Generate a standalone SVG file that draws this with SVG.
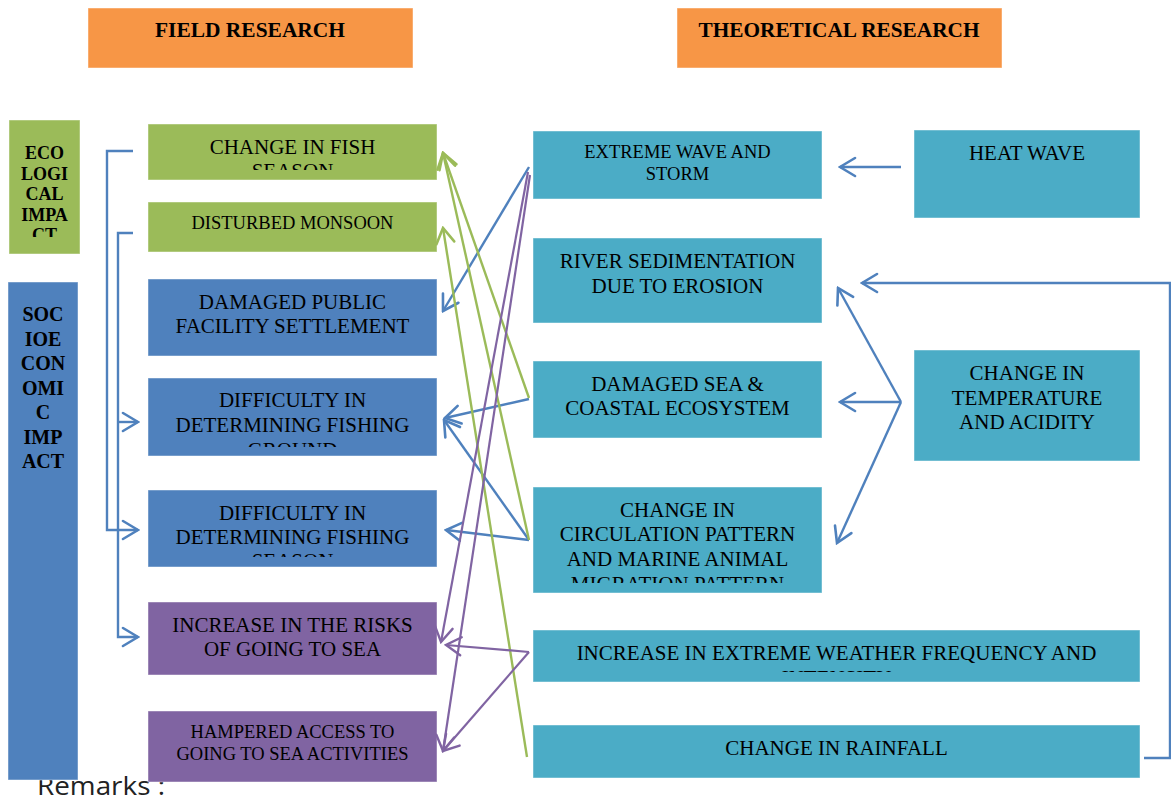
<svg xmlns="http://www.w3.org/2000/svg" width="1171" height="802" viewBox="0 0 1171 802">
  <style>
    .t { font-family: "Liberation Serif", "Times New Roman", serif; fill: #000; text-anchor: middle; }
    .b { font-weight: bold; }
    .orange { fill: #F79646; }
    .green { fill: #9BBB59; }
    .blue { fill: #4F81BD; }
    .purple { fill: #8064A2; }
    .teal { fill: #4BACC6; }
    .box { stroke: #ffffff; stroke-opacity: 0.45; stroke-width: 1; }
    .cb { fill: none; stroke: #4F81BD; stroke-width: 2.4; marker-end: url(#ab); }
    .cg { fill: none; stroke: #9BBB59; stroke-width: 2.4; marker-end: url(#ag); }
    .cp { fill: none; stroke: #8064A2; stroke-width: 2.2; marker-end: url(#ap); }
  </style>
  <defs>
    <marker id="ab" markerUnits="userSpaceOnUse" viewBox="-18 -12 20 24" markerWidth="20" markerHeight="24" refX="0" refY="0" orient="auto">
      <path d="M-15,-9 L0,0 L-15,9" fill="none" stroke="#4F81BD" stroke-width="2.6" stroke-linecap="round"/>
    </marker>
    <marker id="ag" markerUnits="userSpaceOnUse" viewBox="-18 -12 20 24" markerWidth="20" markerHeight="24" refX="0" refY="0" orient="auto">
      <path d="M-15,-9 L0,0 L-15,9" fill="none" stroke="#9BBB59" stroke-width="2.6" stroke-linecap="round"/>
    </marker>
    <marker id="ap" markerUnits="userSpaceOnUse" viewBox="-18 -12 20 24" markerWidth="20" markerHeight="24" refX="0" refY="0" orient="auto">
      <path d="M-15,-9 L0,0 L-15,9" fill="none" stroke="#8064A2" stroke-width="2.4" stroke-linecap="round"/>
    </marker>
    <clipPath id="clipEco"><rect x="9" y="120" width="71" height="117"/></clipPath>
    <clipPath id="clipFish"><rect x="148" y="124" width="289" height="46"/></clipPath>
    <clipPath id="clipGround"><rect x="148" y="378" width="289" height="69"/></clipPath>
    <clipPath id="clipSeason"><rect x="148" y="490" width="289" height="67"/></clipPath>
    <clipPath id="clipCirc"><rect x="533" y="487" width="289" height="96"/></clipPath>
    <clipPath id="clipWeather"><rect x="533" y="630" width="607" height="42"/></clipPath>
  </defs>

  <rect width="1171" height="802" fill="#ffffff"/>

  <!-- footnote sits beneath the left column bar -->
  <text x="37" y="795" font-family="Open Sans, Liberation Sans, sans-serif" font-size="25" fill="#222" textLength="128" lengthAdjust="spacingAndGlyphs">Remarks :</text>

  <!-- column headers -->
  <g id="field-research">
    <rect class="orange box" x="88" y="8" width="325" height="60"/>
    <text class="t b" x="250" y="37" font-size="21" textLength="190" lengthAdjust="spacingAndGlyphs">FIELD RESEARCH</text>
  </g>
  <g id="theoretical-research">
    <rect class="orange box" x="677" y="8" width="325" height="60"/>
    <text class="t b" x="839" y="37" font-size="21" textLength="281" lengthAdjust="spacingAndGlyphs">THEORETICAL RESEARCH</text>
  </g>

  <!-- impact categories -->
  <g id="ecological-impact">
    <rect class="green box" x="9" y="120" width="71" height="134"/>
    <g clip-path="url(#clipEco)" class="t b" font-size="18">
      <text x="44.5" y="159">ECO</text>
      <text x="44.5" y="179.5">LOGI</text>
      <text x="44.5" y="200">CAL</text>
      <text x="44.5" y="220.5">IMPA</text>
      <text x="44.5" y="241">CT</text>
    </g>
  </g>
  <g id="socioeconomic-impact">
    <rect class="blue box" x="8" y="282" width="70" height="498"/>
    <g class="t b" font-size="20">
      <text x="43" y="321">SOC</text>
      <text x="43" y="345.5">IOE</text>
      <text x="43" y="370">CON</text>
      <text x="43" y="394.5">OMI</text>
      <text x="43" y="419">C</text>
      <text x="43" y="443.5">IMP</text>
      <text x="43" y="468">ACT</text>
    </g>
  </g>

  <!-- field research findings -->
  <g id="change-fish-season">
    <rect class="green box" x="148" y="124" width="289" height="56"/>
    <g clip-path="url(#clipFish)" class="t" font-size="21">
      <text x="292.5" y="154">CHANGE IN FISH</text>
      <text x="292.5" y="178">SEASON</text>
    </g>
  </g>
  <g id="disturbed-monsoon">
    <rect class="green box" x="148" y="202" width="289" height="50"/>
    <text class="t" x="292.5" y="229" font-size="18.5">DISTURBED MONSOON</text>
  </g>
  <g id="damaged-public-facility">
    <rect class="blue box" x="148" y="279" width="289" height="77"/>
    <text class="t" x="292.5" y="309" font-size="21">DAMAGED PUBLIC</text>
    <text class="t" x="292.5" y="333" font-size="21">FACILITY SETTLEMENT</text>
  </g>
  <g id="fishing-ground">
    <rect class="blue box" x="148" y="378" width="289" height="78"/>
    <g clip-path="url(#clipGround)" class="t" font-size="21">
      <text x="292.5" y="407">DIFFICULTY IN</text>
      <text x="292.5" y="432">DETERMINING FISHING</text>
      <text x="292.5" y="457">GROUND</text>
    </g>
  </g>
  <g id="fishing-season">
    <rect class="blue box" x="148" y="490" width="289" height="77"/>
    <g clip-path="url(#clipSeason)" class="t" font-size="21">
      <text x="292.5" y="520">DIFFICULTY IN</text>
      <text x="292.5" y="544">DETERMINING FISHING</text>
      <text x="292.5" y="568">SEASON</text>
    </g>
  </g>
  <g id="risks-going-to-sea">
    <rect class="purple box" x="148" y="602" width="289" height="73"/>
    <text class="t" x="292.5" y="632" font-size="21">INCREASE IN THE RISKS</text>
    <text class="t" x="292.5" y="656" font-size="21">OF GOING TO SEA</text>
  </g>
  <g id="hampered-access">
    <rect class="purple box" x="148" y="711" width="289" height="71"/>
    <text class="t" x="292.5" y="738" font-size="18.5">HAMPERED ACCESS TO</text>
    <text class="t" x="292.5" y="760" font-size="18.5">GOING TO SEA ACTIVITIES</text>
  </g>

  <!-- theoretical research causes -->
  <g id="extreme-wave-storm">
    <rect class="teal box" x="533" y="131" width="289" height="68"/>
    <text class="t" x="677.5" y="158" font-size="18.5">EXTREME WAVE AND</text>
    <text class="t" x="677.5" y="180" font-size="18.5">STORM</text>
  </g>
  <g id="river-sedimentation">
    <rect class="teal box" x="533" y="238" width="289" height="85"/>
    <text class="t" x="677.5" y="268" font-size="21">RIVER SEDIMENTATION</text>
    <text class="t" x="677.5" y="293" font-size="21">DUE TO EROSION</text>
  </g>
  <g id="damaged-sea-ecosystem">
    <rect class="teal box" x="533" y="361" width="289" height="77"/>
    <text class="t" x="677.5" y="391" font-size="21">DAMAGED SEA &amp;</text>
    <text class="t" x="677.5" y="415" font-size="21">COASTAL ECOSYSTEM</text>
  </g>
  <g id="circulation-pattern">
    <rect class="teal box" x="533" y="487" width="289" height="106"/>
    <g clip-path="url(#clipCirc)" class="t" font-size="21">
      <text x="677.5" y="517">CHANGE IN</text>
      <text x="677.5" y="541">CIRCULATION PATTERN</text>
      <text x="677.5" y="566">AND MARINE ANIMAL</text>
      <text x="677.5" y="591">MIGRATION PATTERN</text>
    </g>
  </g>
  <g id="extreme-weather">
    <rect class="teal box" x="533" y="630" width="607" height="52"/>
    <g clip-path="url(#clipWeather)" class="t" font-size="21">
      <text x="836.5" y="660">INCREASE IN EXTREME WEATHER FREQUENCY AND</text>
      <text x="836.5" y="685">INTENSITY</text>
    </g>
  </g>
  <g id="change-rainfall">
    <rect class="teal box" x="533" y="725" width="607" height="53"/>
    <text class="t" x="836.5" y="755" font-size="21">CHANGE IN RAINFALL</text>
  </g>
  <g id="heat-wave">
    <rect class="teal box" x="914" y="130" width="226" height="88"/>
    <text class="t" x="1027" y="160" font-size="21">HEAT WAVE</text>
  </g>
  <g id="temperature-acidity">
    <rect class="teal box" x="914" y="350" width="226" height="111"/>
    <text class="t" x="1027" y="380" font-size="21">CHANGE IN</text>
    <text class="t" x="1027" y="405" font-size="21">TEMPERATURE</text>
    <text class="t" x="1027" y="429" font-size="21">AND ACIDITY</text>
  </g>

  <!-- connectors -->
  <g id="connectors">
    <!-- left brackets -->
    <path class="cb" d="M133,151 H107 V530 H138"/>
    <path class="cb" d="M133,233 H118 V637 H138"/>
    <path class="cb" d="M118,422 H138"/>

    <!-- right-hand drivers -->
    <path class="cb" d="M901,167 L840,167"/>
    <path class="cb" d="M901,402 L840,402"/>
    <path class="cb" d="M901,402 L838,288"/>
    <path class="cb" d="M901,402 L837,543"/>
    <path class="cb" d="M1144,758 H1170 V283 H862"/>

    <!-- blue links into field findings -->
    <path class="cb" d="M529,167 L443,311"/>
    <path class="cb" d="M529,399 L445,418"/>
    <path class="cb" d="M529,540 L444,420"/>
    <path class="cb" d="M529,540 L446,530"/>

    <!-- green links -->
    <path class="cg" d="M529,398 L443,153"/>
    <path class="cg" d="M529,540 L443,153"/>
    <path class="cg" d="M527,757 L443,228"/>

    <!-- purple links -->
    <path class="cp" d="M528,172 L441,642"/>
    <path class="cp" d="M530,175 L443,751"/>
    <path class="cp" d="M529,652 L446,645"/>
    <path class="cp" d="M529,652 L443,751"/>
  </g>
</svg>
